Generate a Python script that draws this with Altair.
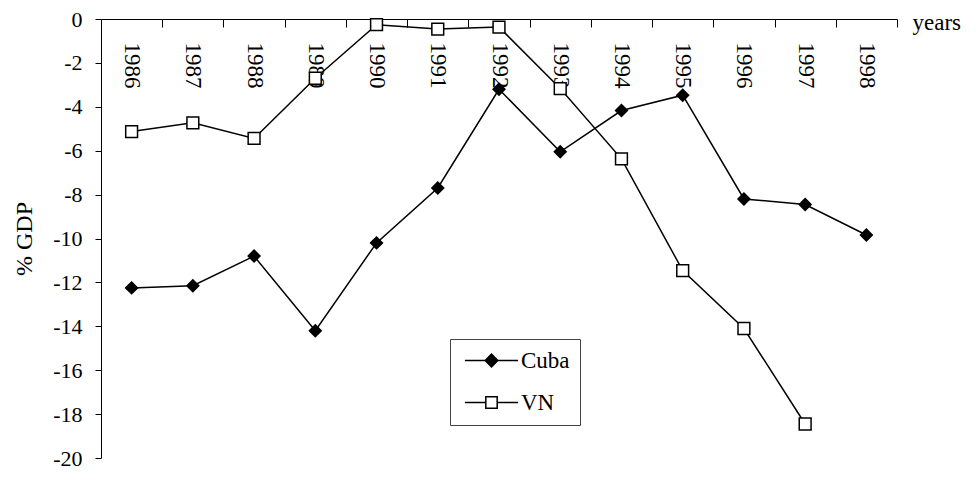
import altair as alt
import pandas as pd

years = [1986, 1987, 1988, 1989, 1990, 1991, 1992, 1993, 1994, 1995, 1996, 1997, 1998]
cuba = [-12.25, -12.15, -10.8, -14.2, -10.2, -7.7, -3.2, -6.05, -4.17, -3.47, -8.2, -8.45, -9.84]
vn = [-5.13, -4.73, -5.44, -2.7, -0.26, -0.46, -0.37, -3.17, -6.37, -11.46, -14.1, -18.45, None]
series_names = ["Cuba", "VN"]

rows = []
for y, c, v in zip(years, cuba, vn):
    rows.append({"year": str(y), "series": "Cuba", "value": c})
    if v is not None:
        rows.append({"year": str(y), "series": "VN", "value": v})
df = pd.DataFrame(rows)

FONT = "Liberation Serif"
W, H = 796, 439

x_enc = alt.X(
    "year:O",
    scale=alt.Scale(paddingInner=0, paddingOuter=0),
    axis=alt.Axis(
        orient="bottom", offset=-H, tickBand="extent", tickSize=8,
        labelAngle=90, labelPadding=15, labelFont=FONT, labelFontSize=23,
        labelColor="black", domainColor="black", tickColor="black",
        title="years", titleFont=FONT, titleFontSize=23, titleFontWeight="normal",
        titleX=W + 15, titleY=10, titleAlign="left", titleBaseline="alphabetic",
        titleAngle=0, titleColor="black",
    ),
)
y_enc = alt.Y(
    "value:Q",
    scale=alt.Scale(domain=[-20, 0], nice=False, zero=False),
    axis=alt.Axis(
        values=list(range(-20, 1, 2)), grid=False, tickSize=6, labelPadding=13,
        labelExpr="datum.value < 0 ? '-' + abs(datum.value) : '' + datum.value",
        labelFont=FONT, labelFontSize=22, labelColor="black",
        domainColor="black", tickColor="black",
        title="% GDP", titleFont=FONT, titleFontSize=24, titleFontWeight="normal",
        titlePadding=16, titleColor="black",
    ),
)

lines = alt.Chart(df).mark_line(color="black", strokeWidth=1.5).encode(
    x=x_enc, y=y_enc, detail="series:N"
)

points = alt.Chart(df).mark_point(filled=True, opacity=1, stroke="black", strokeWidth=1.5, size=140).encode(
    x=x_enc,
    y=y_enc,
    shape=alt.Shape("series:N", scale=alt.Scale(domain=series_names, range=["diamond", "square"]), legend=None),
    fill=alt.Fill("series:N", scale=alt.Scale(domain=series_names, range=["black", "white"]), legend=None),
)

cuba_path = "M-4.2,0L4.2,0M-1,0L0,-1L1,0L0,1Z"
vn_path = "M-4.2,0L-0.9,0M0.9,0L4.2,0M-0.9,-0.9L0.9,-0.9L0.9,0.9L-0.9,0.9Z"

legend = alt.Legend(
    title=None, orient="none", legendX=349, legendY=320,
    fillColor="white", strokeColor="#444", padding=10,
    labelFont=FONT, labelFontSize=23, labelColor="black",
    labelOffset=18, symbolOffset=20,
    symbolSize=160, symbolStrokeWidth=1.5, symbolOpacity=1,
)

legend_layer = alt.Chart(df).transform_filter("false").mark_point(
    filled=True, opacity=1, strokeWidth=1.5, size=160
).encode(
    x=x_enc,
    y=y_enc,
    shape=alt.Shape("series:N", scale=alt.Scale(domain=series_names, range=[cuba_path, vn_path]), legend=legend),
    fill=alt.Fill("series:N", scale=alt.Scale(domain=series_names, range=["black", "white"]), legend=legend),
    stroke=alt.Stroke("series:N", scale=alt.Scale(domain=series_names, range=["black", "black"]), legend=legend),
)

chart = (lines + points + legend_layer).resolve_scale(
    shape="independent", fill="independent", stroke="independent"
).properties(
    width=W, height=H,
    autosize=alt.AutoSizeParams(type="none"),
    padding={"left": 93, "top": 11, "right": 72, "bottom": 11},
).configure_view(stroke=None).configure_legend(rowPadding=18)

chart.save("out.html", embed_options={"renderer": "svg", "actions": False})
